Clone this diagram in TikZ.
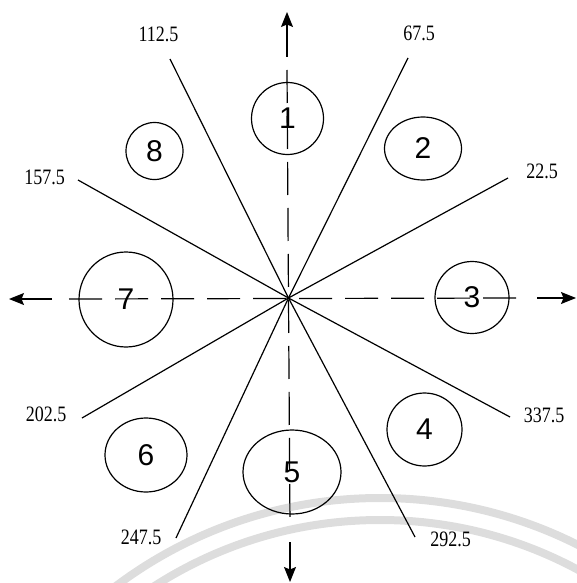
\documentclass[tikz,border=0pt]{standalone}
\usepackage{fontspec}
\setmainfont{Liberation Serif}
\newfontfamily\digitfont{Liberation Sans}
\newfontfamily\labelfont{Liberation Serif}
\usetikzlibrary{arrows.meta,shapes.geometric}
\definecolor{wmark}{HTML}{DDDDDD}
\tikzset{
  ray/.style={line width=1.2pt},
  axisline/.style={line width=1.2pt, dash pattern=on 33pt off 13pt},
  axisarrow/.style={line width=1.2pt, -{Stealth[length=15pt,width=12pt,inset=2.5pt]}},
  zone/.style={draw, ellipse, line width=1.2pt, inner sep=0pt,
    font=\digitfont\fontsize{30}{30}\selectfont},
  anglelabel/.style={inner sep=0pt, xscale=1.8, yscale=2.2,
    font=\labelfont\fontsize{10}{12}\selectfont},
}
\begin{document}
\begin{tikzpicture}[x=1pt,y=-1pt]
\useasboundingbox (0,0) rectangle (577,583);
% watermark arcs
\begin{scope}
\clip (0,0) rectangle (577,583);
\draw[wmark, line width=8pt] (380,938) circle[radius=440];
\draw[wmark, line width=8pt] (380,938) circle[radius=418];
\end{scope}
% centre and ray ends
\coordinate (O) at (288.5,298);
\coordinate (r22) at (508,178);
\coordinate (r67) at (408,58);
\coordinate (r112) at (170,59);
\coordinate (r157) at (78,180);
\coordinate (r202) at (82,418);
\coordinate (r247) at (176,538);
\coordinate (r292) at (415,537);
\coordinate (r337) at (510,417);
\foreach \r in {r22,r67,r112,r157,r202,r247,r292,r337}
  \draw[ray] (O) -- (\r);
% axes
\coordinate (nA) at (287,57);   \coordinate (nT) at (287,12);
\coordinate (nD) at (287,70);
\coordinate (sD) at (290,527);  \coordinate (sA) at (290,542);
\coordinate (sT) at (290,582);
\coordinate (wA) at (52,299);   \coordinate (wT) at (9,299);
\coordinate (wD) at (69,299);
\coordinate (eD) at (521,298);  \coordinate (eA) at (537,298);
\coordinate (eT) at (576,298);
\draw[axisline] (nD) -- (sD);
\draw[axisline] (wD) -- (eD);
\draw[axisarrow] (nA) -- (nT);
\draw[axisarrow] (sA) -- (sT);
\draw[axisarrow] (wA) -- (wT);
\draw[axisarrow] (eA) -- (eT);
% zones
\node[zone, minimum width=72pt, minimum height=72pt] (c1) at (287.5,118.5) {1};
\node[zone, minimum width=77pt, minimum height=63pt] (c2) at (423,148.5) {2};
\node[zone, minimum width=74pt, minimum height=72pt] (c3) at (472,297.5) {3};
\node[zone, minimum width=75pt, minimum height=73pt] (c4) at (424.5,429.5) {4};
\node[zone, minimum width=98pt, minimum height=84pt] (c5) at (292,472) {5};
\node[zone, minimum width=82pt, minimum height=74pt] (c6) at (146,455) {6};
\node[zone, minimum width=94pt, minimum height=95pt] (c7) at (126,299.5) {7};
\node[zone, minimum width=57pt, minimum height=57pt] (c8) at (154.5,151) {8};
% angle labels
\node[anglelabel] (l112) at (158.5,34.5) {112.5};
\node[anglelabel] (l67) at (419,33.5) {67.5};
\node[anglelabel] (l22) at (542,171) {22.5};
\node[anglelabel] (l157) at (44.7,177) {157.5};
\node[anglelabel] (l202) at (46,414) {202.5};
\node[anglelabel] (l337) at (544,415) {337.5};
\node[anglelabel] (l247) at (141,537) {247.5};
\node[anglelabel] (l292) at (450.5,539.5) {292.5};
\end{tikzpicture}
\end{document}
